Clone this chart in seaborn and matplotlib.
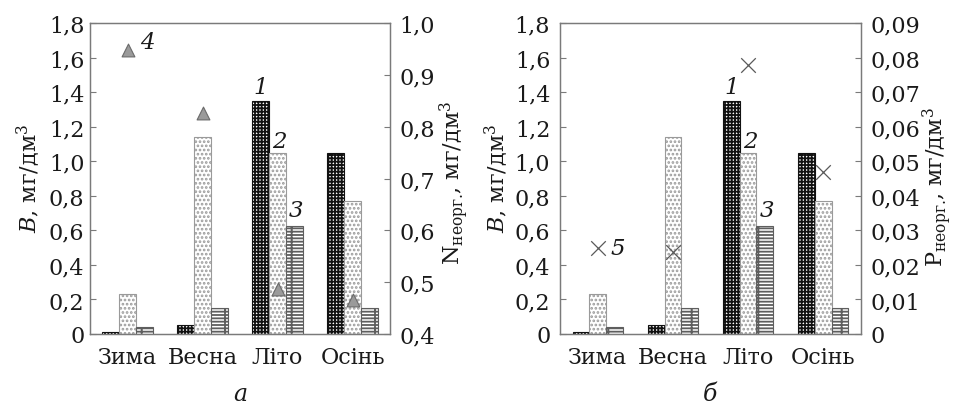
import numpy as np
import pandas as pd
import matplotlib
matplotlib.use("Agg")
import matplotlib.pyplot as plt
from matplotlib.ticker import FuncFormatter, FixedLocator
import seaborn as sns

# ---- data ----
seasons = ["Зима", "Весна", "Літо", "Осінь"]
series_names = ["1", "2", "3"]
biomass_1 = [0.013, 0.05, 1.35, 1.05]
biomass_2 = [0.23, 1.14, 1.05, 0.77]
biomass_3 = [0.04, 0.15, 0.625, 0.15]
n_inorg = [0.947, 0.827, 0.487, 0.466]      # series 4, right axis of panel а
p_inorg = [0.025, 0.0237, 0.0778, 0.0469]   # series 5, right axis of panel б

b_ticks = [0, 0.2, 0.4, 0.6, 0.8, 1.0, 1.2, 1.4, 1.6, 1.8]
n_ticks = [0.4, 0.5, 0.6, 0.7, 0.8, 0.9, 1.0]
p_ticks = [0, 0.01, 0.02, 0.03, 0.04, 0.05, 0.06, 0.07, 0.08, 0.09]

sns.set_theme(style="white")
plt.rcParams["font.family"] = ["DejaVu Serif"]
plt.rcParams["mathtext.fontset"] = "dejavuserif"
plt.rcParams["hatch.linewidth"] = 1.3

TEXT = "#1a1a1a"
SPINE = "#7a7a7a"
FS = 16

df = pd.DataFrame({
    "season": np.repeat(seasons, 3),
    "series": series_names * len(seasons),
    "B": np.ravel(np.column_stack([biomass_1, biomass_2, biomass_3])),
})

fig = plt.figure(figsize=(9.56, 4.10), dpi=100)
W, H = 956.0, 410.0
ax_a = fig.add_axes([90 / W, 1 - 335 / H, 300 / W, 311 / H])
ax_b = fig.add_axes([560 / W, 1 - 335 / H, 301 / W, 311 / H])

bar_styles = [
    dict(hatch="+++++", edgecolor="#111111", facecolor="white"),
    dict(hatch="....", edgecolor="#9a9a9a", facecolor="white"),
    dict(hatch="----+", edgecolor="#5e5e5e", facecolor="white"),
]


def fmt(decimals):
    def f(v, _pos):
        if abs(v) < 1e-12:
            return "0"
        return f"{v:.{decimals}f}".replace(".", ",")
    return FuncFormatter(f)


def draw_panel(ax, right_vals, right_ticks, right_dec, marker, letter, left_pad):
    sns.barplot(data=df, x="season", y="B", hue="series", order=seasons,
                hue_order=series_names, width=0.667, errorbar=None,
                saturation=1, legend=False, ax=ax)
    for cont, st in zip(ax.containers, bar_styles):
        for p in cont:
            p.set_facecolor(st["facecolor"])
            p.set_edgecolor(st["edgecolor"])
            p.set_hatch(st["hatch"])
            p.set_linewidth(0.8)

    ax.set_xlim(-0.5, len(seasons) - 0.5)
    ax.set_ylim(b_ticks[0], b_ticks[-1])
    ax.set_yticks(b_ticks)
    ax.yaxis.set_major_formatter(fmt(1))
    ax.set_xlabel("")
    ax.set_ylabel("")
    ax.set_xticks(range(len(seasons)))
    ax.set_xticklabels(seasons)
    ax.xaxis.set_minor_locator(FixedLocator(np.arange(0.5, len(seasons) - 0.5, 1)))
    ax.tick_params(axis="x", which="major", length=0, pad=9, labelsize=FS, colors=TEXT)
    ax.tick_params(axis="x", which="minor", length=5, width=0.8, color=SPINE, direction="out")
    ax.tick_params(axis="y", direction="in", length=4, width=0.8, color=SPINE,
                   labelsize=FS, labelcolor=TEXT, pad=left_pad)
    for s in ax.spines.values():
        s.set_color(SPINE)
        s.set_linewidth(0.9)

    # bar numbers above the summer group
    summer = seasons.index("Літо")
    offsets = [(0, 14), (2, 12), (2, 16)]
    for cont, name, off in zip(ax.containers, series_names, offsets):
        p = cont[summer]
        ax.annotate(name, (p.get_x() + p.get_width() / 2, p.get_height()),
                    xytext=off, textcoords="offset pixels", ha="center", va="center",
                    fontsize=FS + 0.5, style="italic", color=TEXT)

    ax2 = ax.twinx()
    xpos = np.arange(len(seasons))
    if marker == "^":
        sns.scatterplot(x=xpos, y=right_vals, marker="^", s=85, color="#9a9a9a",
                        edgecolor="#6a6a6a", linewidth=0.8, ax=ax2, zorder=5)
    else:
        sns.scatterplot(x=xpos, y=right_vals, marker="x", s=110, color="#5a5a5a",
                        linewidth=0.9, ax=ax2, zorder=5)
    ax2.set_ylim(right_ticks[0], right_ticks[-1])
    ax2.set_yticks(right_ticks)
    ax2.yaxis.set_major_formatter(fmt(right_dec))
    ax2.tick_params(axis="y", direction="in", length=4, width=0.8, color=SPINE,
                    labelsize=FS, labelcolor=TEXT, pad=7)
    for s in ax2.spines.values():
        s.set_color(SPINE)
        s.set_linewidth(0.9)
    ax2.set_ylabel("")
    ax2.grid(False)
    ax2.annotate(letter, (xpos[0], right_vals[0]), xytext=(20, 8 if marker == "^" else 0),
                 textcoords="offset pixels", ha="center", va="center",
                 fontsize=FS + 0.5, style="italic", color=TEXT)
    return ax2


draw_panel(ax_a, n_inorg, n_ticks, 1, "^", "4", 4)
draw_panel(ax_b, p_inorg, p_ticks, 2, "x", "5", 7)

b_label = r"$\mathit{B}$, мг/дм$^3$"
fig.text(29 / W, 1 - 178 / H, b_label, rotation=90, ha="center", va="center",
         fontsize=FS, color=TEXT)
fig.text(497 / W, 1 - 178 / H, b_label, rotation=90, ha="center", va="center",
         fontsize=FS, color=TEXT)
fig.text(454 / W, 1 - 183 / H, r"$\mathrm{N}_{\mathrm{неорг.}}\!\mathrm{,}$ мг/дм$^3$",
         rotation=90, ha="center", va="center", fontsize=FS, color=TEXT)
fig.text(937 / W, 1 - 187 / H, r"$\mathrm{P}_{\mathrm{неорг.}}\!\mathrm{,}$ мг/дм$^3$",
         rotation=90, ha="center", va="center", fontsize=FS, color=TEXT)

fig.text(240 / W, 1 - 395 / H, "а", style="italic", ha="center", va="center",
         fontsize=FS + 1, color=TEXT)
fig.text(710 / W, 1 - 395 / H, "б", style="italic", ha="center", va="center",
         fontsize=FS + 1, color=TEXT)

fig.savefig("out.png", dpi=100, facecolor="white")
